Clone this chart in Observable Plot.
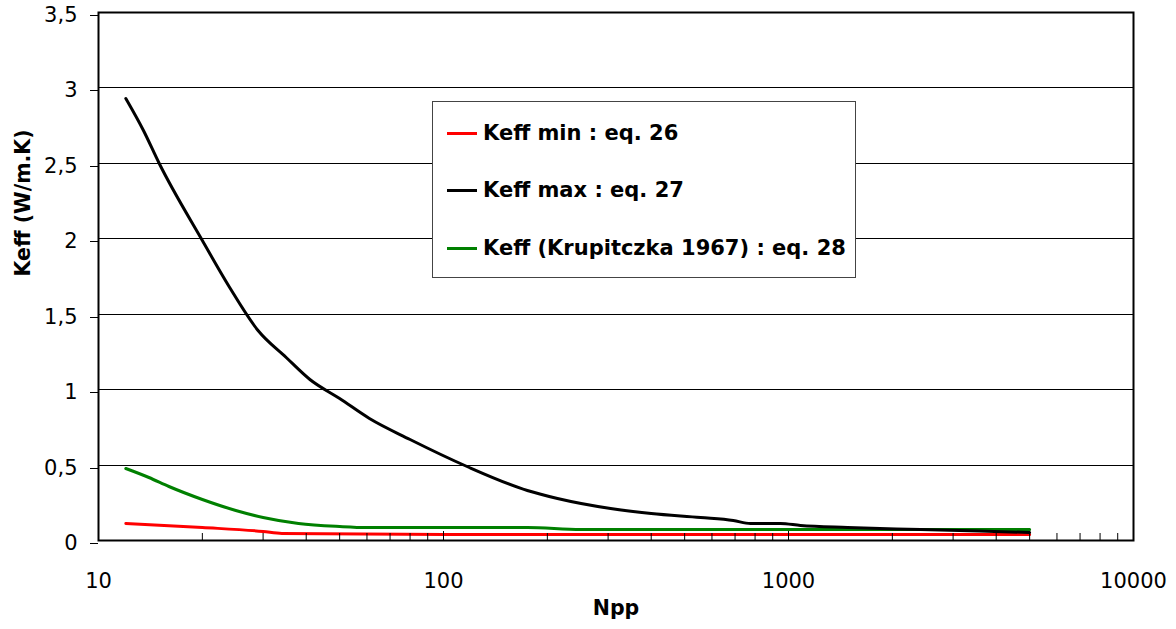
<!DOCTYPE html>
<html>
<head>
<meta charset="utf-8">
<script src="https://cdn.jsdelivr.net/npm/d3@7"></script>
<script src="https://cdn.jsdelivr.net/npm/@observablehq/plot@0.6"></script>
<style>
  html, body { margin: 0; padding: 0; background: #fff; }
  #wrap { position: relative; width: 1176px; height: 629px; font-family: "DejaVu Sans", sans-serif; }
  #legend { position: absolute; left: 432px; top: 101px; width: 422px; height: 175px; background: #fff; border: 1px solid #444; }
  .item { position: absolute; left: 14px; font-weight: bold; font-size: 21px; color: #000; white-space: nowrap; line-height: 1; }
  .item .sw { display: inline-block; width: 30px; height: 3px; vertical-align: middle; margin-right: 6px; position: relative; top: -1px; }
</style>
</head>
<body>
<div id="wrap"></div>
<script>
// Series (Npp, Keff in W/m.K)
const keffMaxN = [12, 13.5, 15, 20, 24, 29, 35, 41, 50, 61, 80, 117, 175, 214, 305, 400, 556, 692, 776, 948, 1083, 1483, 2415, 5000];
const keffMaxV = [2.93, 2.72, 2.50, 1.99, 1.68, 1.39, 1.21, 1.07, 0.94, 0.81, 0.67, 0.49, 0.33, 0.28, 0.21, 0.18, 0.155, 0.133, 0.115, 0.11, 0.099, 0.088, 0.071, 0.055];
const keffKrupN = [12, 14, 16, 20, 25, 30, 38, 50, 60, 175, 250, 5000];
const keffKrupV = [0.48, 0.415, 0.36, 0.27, 0.20, 0.15, 0.11, 0.092, 0.088, 0.088, 0.076, 0.074];
const keffMinN = [12, 20, 30, 34, 100, 300, 5000];
const keffMinV = [0.11, 0.085, 0.062, 0.048, 0.043, 0.037, 0.037];

const seriesNames = ["Keff min : eq. 26", "Keff max : eq. 27", "Keff (Krupitczka 1967) : eq. 28"];
const seriesColors = ["#ff0000", "#000000", "#008000"];

const yTicks = [0, 0.5, 1, 1.5, 2, 2.5, 3, 3.5];
const yGrid = [0.5, 1, 1.5, 2, 2.5, 3];
const xMajor = [10, 100, 1000, 10000];
const xMinor = [20, 30, 40, 50, 60, 70, 80, 90, 200, 300, 400, 500, 600, 700, 800, 900, 2000, 3000, 4000, 5000, 6000, 7000, 8000, 9000];

const toRows = (ns, vs, s) => ns.map((n, i) => ({n, v: vs[i], s}));
const rows = [
  ...toRows(keffMinN, keffMinV, seriesNames[0]),
  ...toRows(keffKrupN, keffKrupV, seriesNames[2]),
  ...toRows(keffMaxN, keffMaxV, seriesNames[1])
];

const fmt = d => String(d).replace(".", ",");

const chart = Plot.plot({
  width: 1176,
  height: 629,
  marginLeft: 98,
  marginRight: 43,
  marginTop: 12,
  marginBottom: 89,
  style: { fontFamily: "DejaVu Sans, sans-serif", background: "#fff" },
  x: { type: "log", domain: [10, 10000] },
  y: { domain: [0, 3.5], round: true },
  color: { domain: seriesNames, range: seriesColors },
  marks: [
    Plot.ruleY(yGrid, { stroke: "#000", strokeWidth: 1 }),
    Plot.line(rows, { x: "n", y: "v", z: "s", stroke: "s", strokeWidth: 3, curve: "monotone-x" }),
    Plot.ruleX(xMinor, { stroke: "#000", strokeWidth: 1, insetTop: 521 }),
    Plot.ruleX(xMajor, { stroke: "#000", strokeWidth: 1, insetTop: 519 }),
    Plot.frame({ stroke: "#000", strokeWidth: 2 }),
    Plot.axisY(yTicks, { tickSize: 8, tickPadding: 13, tickFormat: fmt, fontSize: 21, dy: 3, label: null, strokeWidth: 1 }),
    Plot.axisX(xMajor, { tickSize: 0, tickPadding: 33, tickFormat: d => String(d), fontSize: 21, label: null }),
    Plot.text(["Keff (W/m.K)"], { frameAnchor: "left", dx: -75, rotate: -90, fontSize: 20.5, fontWeight: "bold", fill: "#000" }),
    Plot.text(["Npp"], { frameAnchor: "bottom", dy: 74, fontSize: 20.5, fontWeight: "bold", fill: "#000" })
  ]
});

const wrap = document.getElementById("wrap");
wrap.appendChild(chart);

const legend = document.createElement("div");
legend.id = "legend";
const tops = [21, 78, 136];
seriesNames.forEach((name, i) => {
  const it = document.createElement("div");
  it.className = "item";
  it.style.top = tops[i] + "px";
  const sw = document.createElement("span");
  sw.className = "sw";
  sw.style.background = seriesColors[i];
  it.appendChild(sw);
  it.appendChild(document.createTextNode(name));
  legend.appendChild(it);
});
wrap.appendChild(legend);
</script>
</body>
</html>
